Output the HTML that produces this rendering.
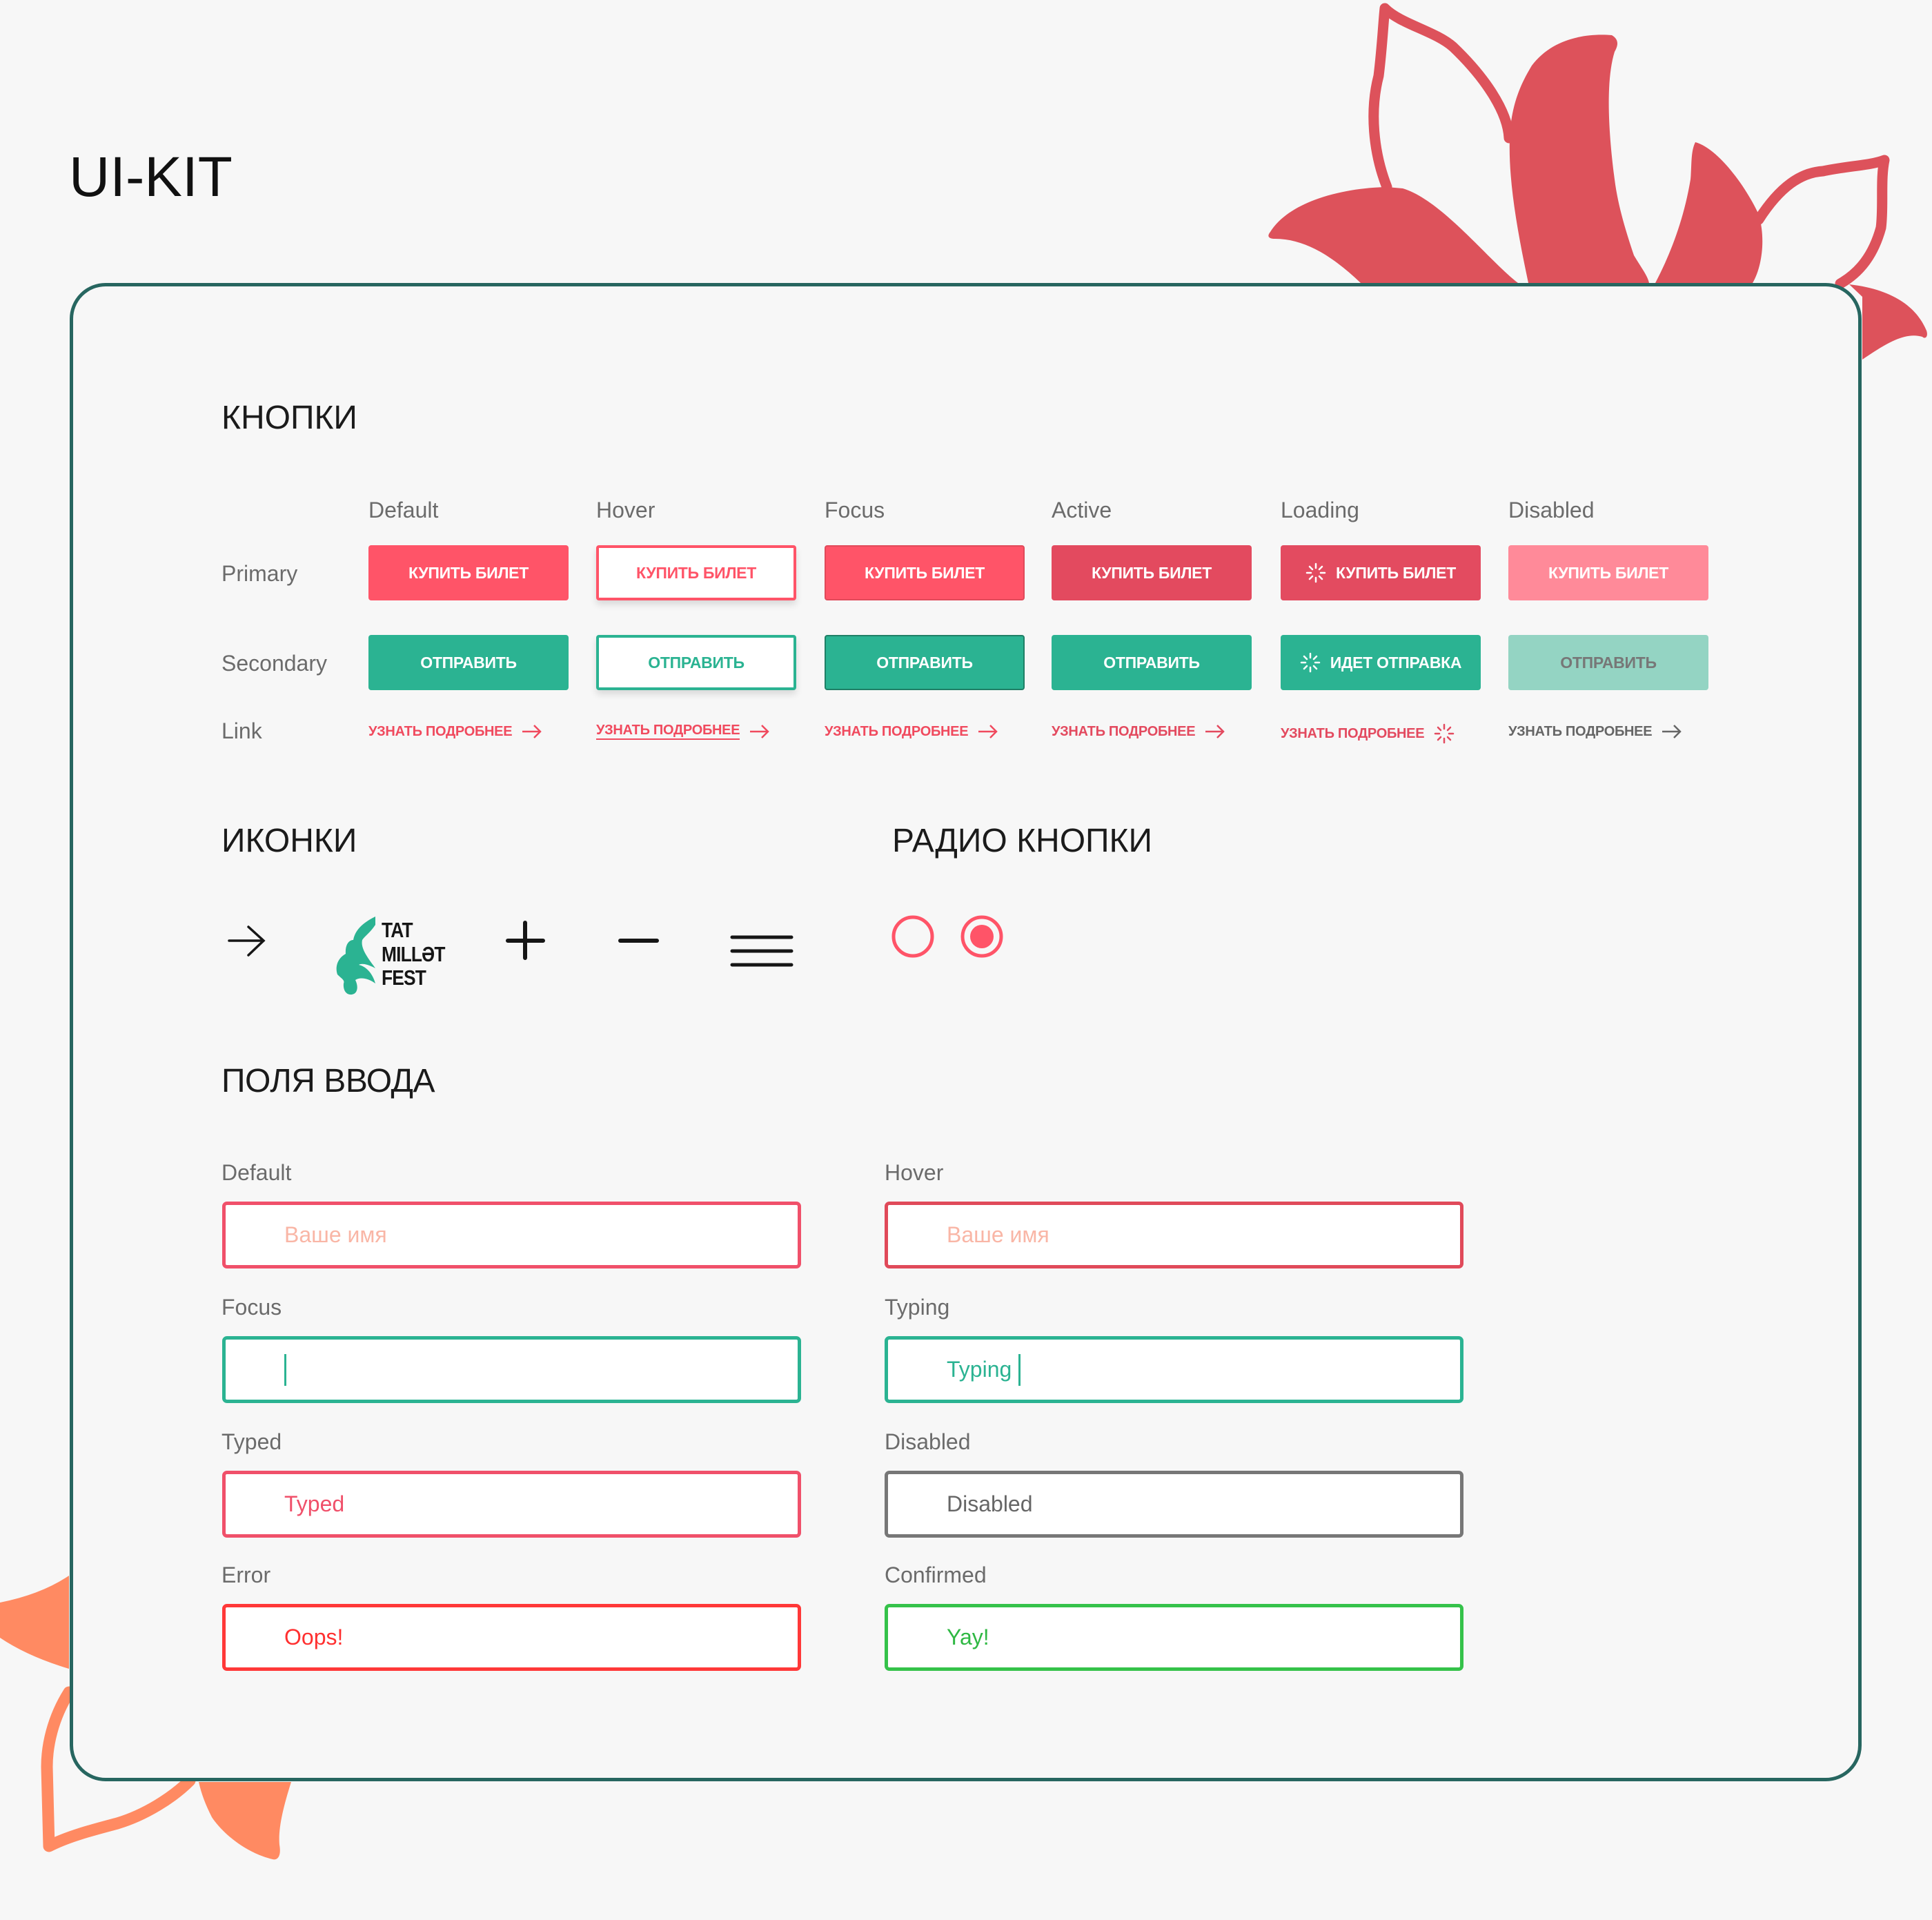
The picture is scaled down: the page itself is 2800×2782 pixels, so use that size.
<!DOCTYPE html>
<html><head><meta charset="utf-8">
<style>
*{margin:0;padding:0;box-sizing:border-box}
body{width:2800px;height:2782px;background:#f7f7f7;position:relative;overflow:hidden;font-family:"Liberation Sans","DejaVu Sans",sans-serif}
.a{position:absolute;white-space:nowrap}
.card{position:absolute;left:101px;top:410px;width:2597px;height:2171px;border:5px solid #276660;border-radius:52px;background:#f7f7f7}
h2{position:absolute;font-weight:normal;font-size:48px;color:#1b1b1b;white-space:nowrap;line-height:1}
.lbl{position:absolute;font-size:32px;color:#6b6b6b;white-space:nowrap;line-height:1}
.btn{position:absolute;width:290px;height:80px;border-radius:4px;display:flex;align-items:center;justify-content:center;font-weight:bold;font-size:23px;color:#fff;white-space:nowrap;letter-spacing:-0.3px}
.lnk{position:absolute;font-weight:bold;font-size:20px;color:#f04a5e;white-space:nowrap;display:flex;align-items:center;line-height:1;letter-spacing:-0.3px}
.inp{position:absolute;width:839px;height:97px;border:5px solid;border-radius:7px;background:#fff;font-size:32px;padding-left:85px;display:flex;align-items:center}
</style></head><body>

<svg class="a" style="left:0;top:0" width="2800" height="2782">
 <g fill="#dd525b">
  <path d="M1841,336 C1870,290 1950,272 2010,271 L2033,273 C2090,290 2160,380 2200,410 L1972,410 C1930,370 1890,346 1848,346 C1838,346 1836,342 1841,336 Z"/>
  <path d="M2336,51 C2348,58 2344,68 2340,75 C2326,120 2332,200 2340,260 C2345,300 2358,340 2368,370 C2380,390 2388,400 2390,410 L2215,410 C2198,330 2186,260 2188,200 C2190,150 2205,120 2220,95 C2250,55 2300,48 2336,51 Z"/>
  <path d="M2457,206 C2490,215 2530,270 2549,311 C2560,350 2552,390 2540,410 L2399,410 C2420,370 2440,320 2450,260 C2452,240 2450,220 2457,206 Z"/>
  <path d="M2680,412 C2750,420 2780,450 2792,479 C2795,488 2790,492 2786,488 C2760,480 2730,500 2699,521 L2699,430 Z"/>
 </g>
 <g fill="none" stroke="#dd525b" stroke-width="15" stroke-linecap="round" stroke-linejoin="round">
  <path d="M2010,271 C1990,220 1985,160 1998,110 C2003,70 2005,30 2007,12 C2030,35 2080,45 2106,68 C2150,110 2185,160 2187,200"/>
  <path d="M2549,318 C2580,270 2610,250 2642,248 C2680,240 2710,240 2731,232 C2725,260 2730,300 2726,330 C2715,370 2695,395 2667,411"/>
 </g>
 <g fill="#ff8a62">
  <path d="M0,2322 Q60,2310 100,2283 L100,2418 Q40,2400 0,2373 Z"/>
  <path d="M288,2582 L422,2582 C410,2620 403,2650 405,2673 C408,2690 402,2696 395,2694 C350,2683 318,2650 307,2633 C298,2615 292,2600 288,2582 Z"/>
 </g>
 <path fill="none" stroke="#ff8a62" stroke-width="17" stroke-linecap="round" stroke-linejoin="round" d="M100,2452 C76,2490 68,2530 68,2560 L71,2675 C100,2660 140,2650 170,2642 C210,2630 250,2605 275,2580"/>
</svg>

<div class="a" style="left:100px;top:216px;font-size:82px;color:#111;line-height:1">UI-KIT</div>
<div class="card"></div>

<h2 style="left:321px;top:582px">КНОПКИ</h2>

<div class="lbl" style="left:534px;top:723px">Default</div>
<div class="lbl" style="left:864px;top:723px">Hover</div>
<div class="lbl" style="left:1195px;top:723px">Focus</div>
<div class="lbl" style="left:1524px;top:723px">Active</div>
<div class="lbl" style="left:1856px;top:723px">Loading</div>
<div class="lbl" style="left:2186px;top:723px">Disabled</div>

<div class="lbl" style="left:321px;top:815px">Primary</div>
<div class="lbl" style="left:321px;top:945px">Secondary</div>
<div class="lbl" style="left:321px;top:1043px">Link</div>

<div class="btn" style="left:534px;top:790px;background:#ff5468">КУПИТЬ БИЛЕТ</div>
<div class="btn" style="left:864px;top:790px;background:#fff;border:4px solid #ff5468;color:#ff5468;box-shadow:0 6px 10px rgba(0,0,0,.12)">КУПИТЬ БИЛЕТ</div>
<div class="btn" style="left:1195px;top:790px;background:#ff5468;border:2px solid #e04a5a">КУПИТЬ БИЛЕТ</div>
<div class="btn" style="left:1524px;top:790px;background:#e34a5f">КУПИТЬ БИЛЕТ</div>
<div class="btn" style="left:1856px;top:790px;background:#e34b60"><svg width="30" height="30" viewBox="-15 -15 30 30" style="margin-right:14px" stroke="#fff" stroke-width="2.5" stroke-linecap="round"><path d="M0-13V-7M0 7V13M-13 0H-7M7 0H13M-9-9L-5-5M5 5L9 9M-9 9L-5 5M5-5L9-9"/></svg>КУПИТЬ БИЛЕТ</div>
<div class="btn" style="left:2186px;top:790px;background:#ff8a99">КУПИТЬ БИЛЕТ</div>

<div class="btn" style="left:534px;top:920px;background:#2bb392">ОТПРАВИТЬ</div>
<div class="btn" style="left:864px;top:920px;background:#fff;border:4px solid #2bb392;color:#2bb392;box-shadow:0 6px 10px rgba(0,0,0,.12)">ОТПРАВИТЬ</div>
<div class="btn" style="left:1195px;top:920px;background:#2bb392;border:2px solid #1f7f66">ОТПРАВИТЬ</div>
<div class="btn" style="left:1524px;top:920px;background:#2bb392">ОТПРАВИТЬ</div>
<div class="btn" style="left:1856px;top:920px;background:#2bb392"><svg width="30" height="30" viewBox="-15 -15 30 30" style="margin-right:14px" stroke="#fff" stroke-width="2.5" stroke-linecap="round"><path d="M0-13V-7M0 7V13M-13 0H-7M7 0H13M-9-9L-5-5M5 5L9 9M-9 9L-5 5M5-5L9-9"/></svg>ИДЕТ ОТПРАВКА</div>
<div class="btn" style="left:2186px;top:920px;background:#94d4c3;color:#777">ОТПРАВИТЬ</div>

<div class="lnk" style="left:534px;top:1048px">УЗНАТЬ ПОДРОБНЕЕ<svg width="30" height="24" viewBox="0 0 30 24" style="margin-left:14px" fill="none" stroke="#f04a5e" stroke-width="2.5"><path d="M1 12H27M18 3L27 12L18 21"/></svg></div>
<div class="lnk" style="left:864px;top:1048px"><span style="border-bottom:2px solid #f04a5e;padding-bottom:2px">УЗНАТЬ ПОДРОБНЕЕ</span><svg width="30" height="24" viewBox="0 0 30 24" style="margin-left:14px" fill="none" stroke="#f04a5e" stroke-width="2.5"><path d="M1 12H27M18 3L27 12L18 21"/></svg></div>
<div class="lnk" style="left:1195px;top:1048px">УЗНАТЬ ПОДРОБНЕЕ<svg width="30" height="24" viewBox="0 0 30 24" style="margin-left:14px" fill="none" stroke="#f04a5e" stroke-width="2.5"><path d="M1 12H27M18 3L27 12L18 21"/></svg></div>
<div class="lnk" style="left:1524px;top:1048px;color:#e34a5f">УЗНАТЬ ПОДРОБНЕЕ<svg width="30" height="24" viewBox="0 0 30 24" style="margin-left:14px" fill="none" stroke="#e34a5f" stroke-width="2.5"><path d="M1 12H27M18 3L27 12L18 21"/></svg></div>
<div class="lnk" style="left:1856px;top:1048px;color:#e34a5f">УЗНАТЬ ПОДРОБНЕЕ<svg width="30" height="30" viewBox="-15 -15 30 30" style="margin-left:14px" stroke="#e34a5f" stroke-width="2.5" stroke-linecap="round"><path d="M0-13V-7M0 7V13M-13 0H-7M7 0H13M-9-9L-5-5M5 5L9 9M-9 9L-5 5M5-5L9-9"/></svg></div>
<div class="lnk" style="left:2186px;top:1048px;color:#666">УЗНАТЬ ПОДРОБНЕЕ<svg width="30" height="24" viewBox="0 0 30 24" style="margin-left:14px" fill="none" stroke="#666" stroke-width="2.5"><path d="M1 12H27M18 3L27 12L18 21"/></svg></div>

<h2 style="left:321px;top:1195px">ИКОНКИ</h2>
<h2 style="left:1293px;top:1195px">РАДИО КНОПКИ</h2>

<svg class="a" style="left:0;top:1300px" width="1500" height="160" fill="none" stroke="#161616" stroke-linecap="round">
 <path d="M332,63 H381 M360,43 L382,63 L360,84" stroke-width="3.5"/>
 <path d="M761,37 V88 M736,63 H787" stroke-width="6"/>
 <path d="M899,63 H952" stroke-width="6"/>
 <path d="M1061,58 H1147 M1061,78 H1147 M1061,98 H1147" stroke-width="5"/>
 <circle cx="1323" cy="57" r="28" stroke="#ff5468" stroke-width="5"/>
 <circle cx="1423" cy="57" r="28" stroke="#ff5468" stroke-width="5"/>
 <circle cx="1423" cy="57" r="17" fill="#ff5468" stroke="none"/>
 <path fill="#2bb392" stroke="none" d="M544,28 C530,35 515,45 512,62 C505,62 500,70 501,82 C490,88 485,100 489,112 C495,118 500,120 498,125 C497,135 502,142 510,141 C518,140 520,130 515,120 C522,115 535,118 544,125 C540,110 530,100 520,98 C525,95 535,98 544,103 C535,90 522,75 525,62 C530,55 536,52 544,40 Z"/>
</svg>
<div class="a" style="left:553px;top:1331px;font-weight:bold;font-size:31px;line-height:34.5px;color:#161616;transform:scaleX(0.85);transform-origin:left top;letter-spacing:-1px">TAT<br>MILLƏT<br>FEST</div>

<h2 style="left:321px;top:1543px;letter-spacing:-0.5px">ПОЛЯ ВВОДА</h2>

<div class="lbl" style="left:321px;top:1683px">Default</div>
<div class="lbl" style="left:1282px;top:1683px">Hover</div>
<div class="lbl" style="left:321px;top:1878px">Focus</div>
<div class="lbl" style="left:1282px;top:1878px">Typing</div>
<div class="lbl" style="left:321px;top:2073px">Typed</div>
<div class="lbl" style="left:1282px;top:2073px">Disabled</div>
<div class="lbl" style="left:321px;top:2266px">Error</div>
<div class="lbl" style="left:1282px;top:2266px">Confirmed</div>

<div class="inp" style="left:322px;top:1741px;border-color:#f0506a;color:#f9b6a6">Ваше имя</div>
<div class="inp" style="left:1282px;top:1741px;border-color:#e04a5a;color:#f9b6a6">Ваше имя</div>
<div class="inp" style="left:322px;top:1936px;border-color:#2bb392;color:#2bb392"><span style="display:inline-block;width:3px;height:46px;background:#2bb392"></span></div>
<div class="inp" style="left:1282px;top:1936px;border-color:#2bb392;color:#2bb392">Typing<span style="display:inline-block;width:3px;height:46px;background:#2bb392;margin-left:10px"></span></div>
<div class="inp" style="left:322px;top:2131px;border-color:#f0506a;color:#f0506a">Typed</div>
<div class="inp" style="left:1282px;top:2131px;border-color:#777;color:#666">Disabled</div>
<div class="inp" style="left:322px;top:2324px;border-color:#ff3838;color:#ff3030">Oops!</div>
<div class="inp" style="left:1282px;top:2324px;border-color:#35c24a;color:#2fb843">Yay!</div>

</body></html>
